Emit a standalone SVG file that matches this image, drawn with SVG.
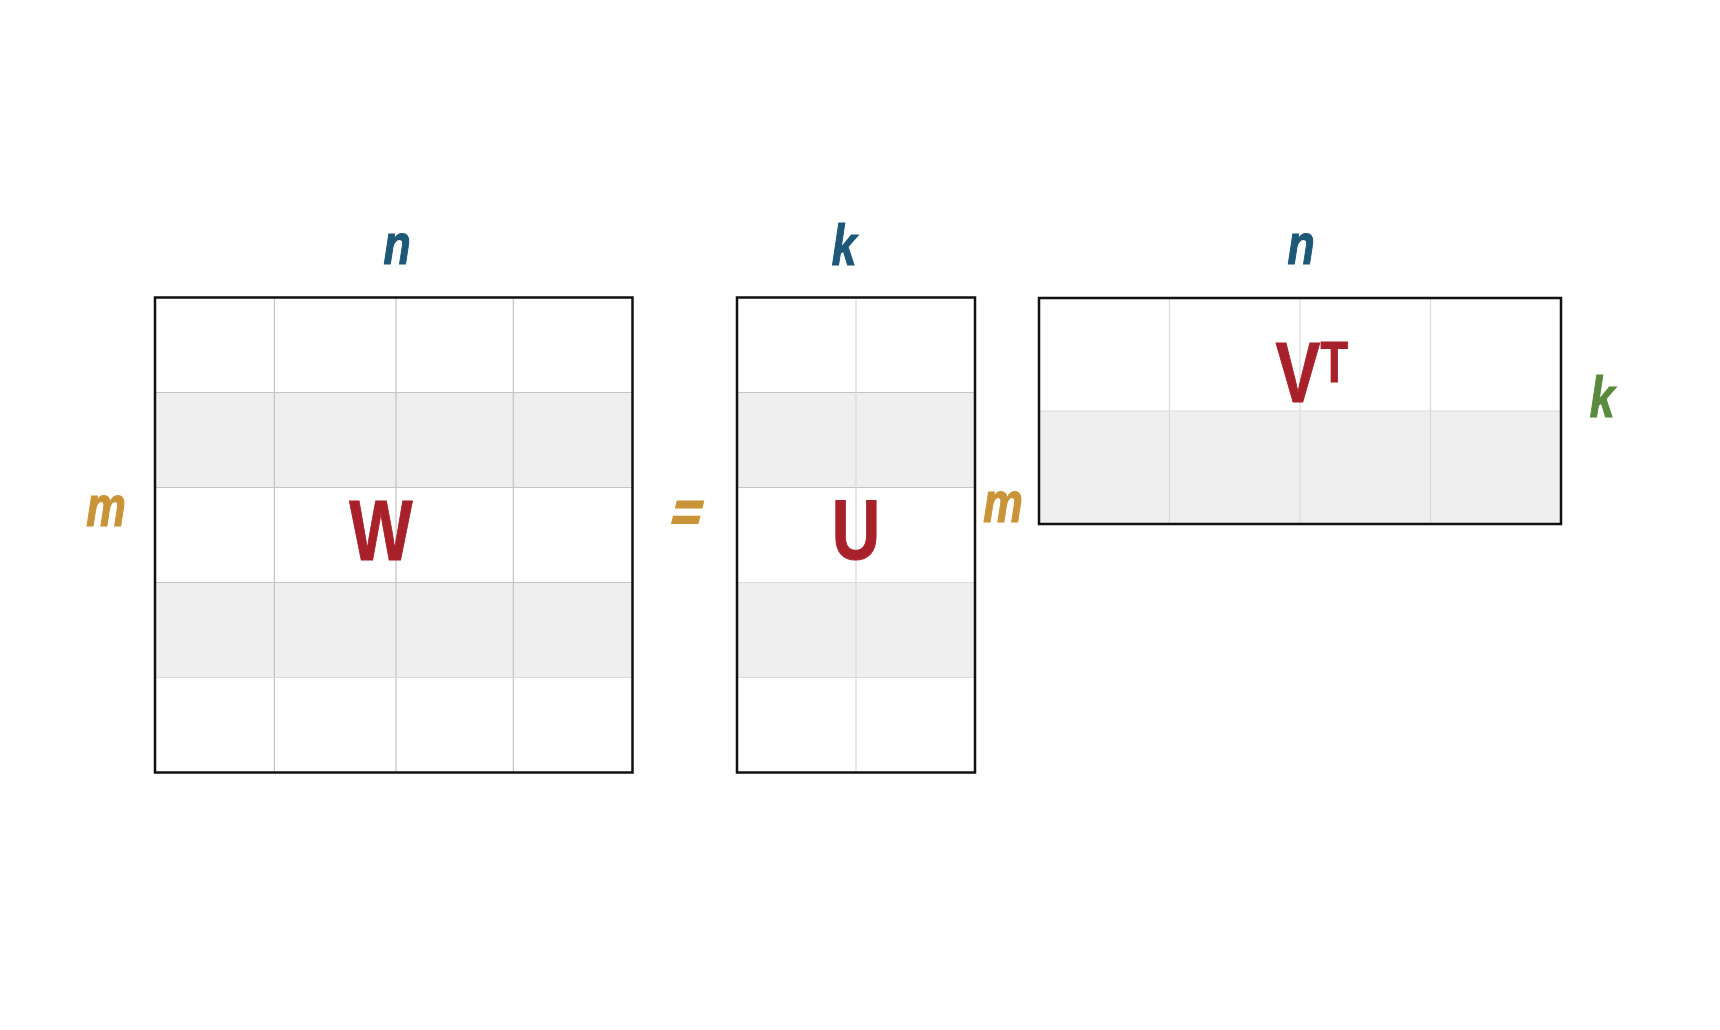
<svg xmlns="http://www.w3.org/2000/svg" width="1720" height="1030" viewBox="0 0 1720 1030">
<style>
.bg{fill:#ffffff}
.band{fill:#efefef}
.grid{stroke:#c4c4c4;stroke-width:1.2;fill:none}
.gridl{stroke:#dadada;stroke-width:1.2;fill:none}
.frame{fill:none;stroke:#111111;stroke-width:2.5}
.lbl{font-family:"Liberation Sans",Arial,sans-serif;font-weight:bold;font-style:italic;font-size:57px;text-anchor:middle;stroke-width:1.2}
.big{font-family:"Liberation Sans",Arial,sans-serif;font-weight:bold;font-size:86px;fill:#a8212a;stroke:#a8212a;stroke-width:1}
.blue{fill:#1d5878;stroke:#1d5878}
.gold{fill:#c99438;stroke:#c99438}
.green{fill:#5a8a3e;stroke:#5a8a3e}
</style>
<rect class="bg" x="0" y="0" width="1720" height="1030"/>
<g id="matrix-W">
<rect x="155" y="297.5" width="477.5" height="475" fill="#ffffff"/>
<rect class="band" x="155" y="392.5" width="477.5" height="95"/>
<rect class="band" x="155" y="582.5" width="477.5" height="95"/>
<path class="grid" d="M155 392.5H632.5M155 487.5H632.5M155 582.5H632.5M274.4 297.5V772.5M396 297.5V772.5M513.3 297.5V772.5"/>
<path class="gridl" d="M155 677.5H632.5"/>
<rect class="frame" x="155" y="297.5" width="477.5" height="475"/>
<g transform="translate(381,560) scale(0.78,1)"><text class="big" x="0" y="0" text-anchor="middle">W</text></g>
</g>
<g id="label-n-W" transform="translate(397,264) scale(0.78,1)"><text class="lbl blue" x="0" y="0">n</text></g>
<g id="label-m-W" transform="translate(106,525.5) scale(0.78,1)"><text class="lbl gold" x="0" y="0">m</text></g>
<g id="equals" transform="translate(682,531) skewX(-14) scale(0.9,1)"><text class="lbl gold" x="0" y="0" style="stroke-width:2">=</text></g>
<g id="matrix-U">
<rect x="737" y="297.5" width="238" height="475" fill="#ffffff"/>
<rect class="band" x="737" y="392.5" width="238" height="95"/>
<rect class="band" x="737" y="582.5" width="238" height="95"/>
<path class="grid" d="M737 392.5H975M737 487.5H975"/>
<path class="gridl" d="M737 582.5H975M737 677.5H975M856 297.5V772.5"/>
<rect class="frame" x="737" y="297.5" width="238" height="475"/>
<g transform="translate(856,559) scale(0.78,1)"><text class="big" x="0" y="0" text-anchor="middle">U</text></g>
</g>
<g id="label-k-U" transform="translate(844,265) scale(0.78,1)"><text class="lbl blue" x="0" y="0">k</text></g>
<g id="label-m-VT" transform="translate(1003,521.5) scale(0.78,1)"><text class="lbl gold" x="0" y="0">m</text></g>
<g id="matrix-VT">
<rect x="1039" y="298" width="522" height="226" fill="#ffffff"/>
<rect class="band" x="1039" y="411" width="522" height="113"/>
<path class="gridl" d="M1039 411H1561M1169.5 298V524M1300 298V524M1430.5 298V524"/>
<rect class="frame" x="1039" y="298" width="522" height="226"/>
<g transform="translate(1275.5,402) scale(0.78,1)"><text class="big" x="0" y="0">V</text></g>
<g transform="translate(1320.5,381.5) scale(0.78,1)"><text class="big" x="0" y="0" style="font-size:58px">T</text></g>
</g>
<g id="label-n-VT" transform="translate(1301,264) scale(0.78,1)"><text class="lbl blue" x="0" y="0">n</text></g>
<g id="label-k-VT" transform="translate(1602,417) scale(0.78,1)"><text class="lbl green" x="0" y="0">k</text></g>
<g id="connectors"></g>
</svg>
